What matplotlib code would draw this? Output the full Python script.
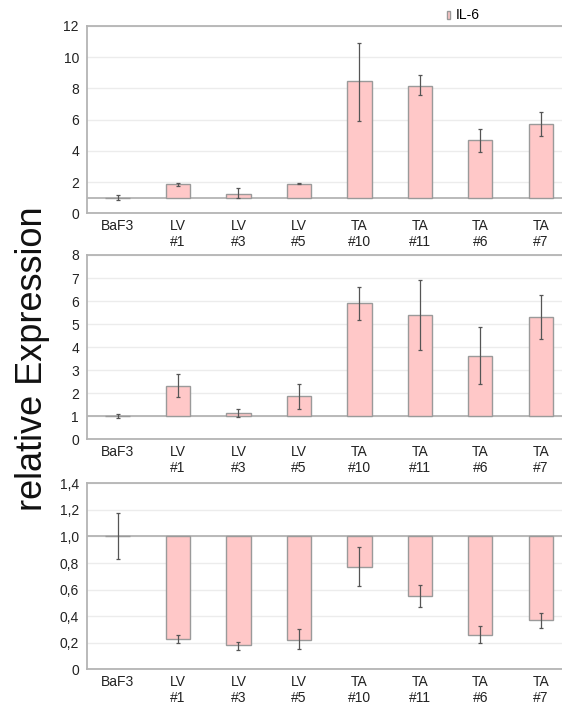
import numpy as np
import matplotlib.pyplot as plt

plt.rcParams['font.family'] = ['Liberation Sans', 'DejaVu Sans']

samples = ["BaF3", "LV\n#1", "LV\n#3", "LV\n#5", "TA\n#10", "TA\n#11", "TA\n#6", "TA\n#7"]

# panel 1 (IL-6)
p1_mean = [1.0, 1.86, 1.26, 1.88, 8.46, 8.18, 4.68, 5.72]
p1_lo = [0.85, 1.75, 1.00, 1.86, 5.90, 7.60, 3.93, 4.96]
p1_hi = [1.20, 1.95, 1.62, 1.92, 10.94, 8.87, 5.40, 6.47]

# panel 2
p2_mean = [1.0, 2.33, 1.14, 1.87, 5.92, 5.38, 3.62, 5.31]
p2_lo = [0.92, 1.82, 0.96, 1.32, 5.17, 3.86, 2.39, 4.37]
p2_hi = [1.08, 2.84, 1.33, 2.42, 6.63, 6.93, 4.86, 6.25]

# panel 3
p3_mean = [1.0, 0.228, 0.183, 0.221, 0.773, 0.549, 0.258, 0.369]
p3_lo = [0.83, 0.20, 0.148, 0.15, 0.63, 0.472, 0.198, 0.309]
p3_hi = [1.174, 0.26, 0.208, 0.30, 0.918, 0.637, 0.324, 0.426]

ticks1 = [0, 2, 4, 6, 8, 10, 12]
ticks2 = [0, 1, 2, 3, 4, 5, 6, 7, 8]
ticks3 = [0, 0.2, 0.4, 0.6, 0.8, 1.0, 1.2, 1.4]
ticks3_labels = ["0", "0,2", "0,4", "0,6", "0,8", "1,0", "1,2", "1,4"]

BAR = "#ffc8c8"
EDGE = "#9a9a9a"
AX = "#b4b4b4"


def panel(fig, rect, mean, lo, hi, ticks, tlabels):
    ax = fig.add_axes(rect)
    x = np.arange(len(samples))
    mean = np.array(mean)
    yerr = [mean - np.array(lo), np.array(hi) - mean]
    bars = ax.bar(x, mean - 1, bottom=1, width=0.4, color=BAR, edgecolor=EDGE,
                  linewidth=1.0, zorder=3)
    ax.errorbar(x, mean, yerr=yerr, fmt='none', ecolor="#555555", elinewidth=0.9,
                capsize=1.5, capthick=0.9, zorder=4)
    ax.axhline(1, color=AX, lw=1.3, zorder=2)
    ax.set_xlim(-0.5, 7.35)
    ax.set_ylim(ticks[0], ticks[-1])
    ax.set_yticks(ticks)
    ax.set_yticklabels(tlabels if tlabels else [str(t) for t in ticks])
    ax.set_xticks(x)
    ax.set_xticklabels(samples)
    ax.tick_params(length=0, labelsize=10, colors="#222222")
    ax.tick_params(axis='y', pad=6)
    ax.tick_params(axis='x', pad=4)
    ax.grid(axis='y', color="#ececec", lw=1.0, zorder=0)
    ax.set_axisbelow(True)
    for s in ['left', 'top', 'bottom']:
        ax.spines[s].set_color(AX)
        ax.spines[s].set_linewidth(1.3)
    ax.spines['right'].set_visible(False)
    return ax, bars


fig = plt.figure(figsize=(5.62, 7.04), dpi=100)
left, width = 0.1553, 0.8447
ax1, bars1 = panel(fig, [left, 0.697, width, 0.9631 - 0.697], p1_mean, p1_lo, p1_hi, ticks1, None)
ax2, _ = panel(fig, [left, 0.376, width, 0.6378 - 0.376], p2_mean, p2_lo, p2_hi, ticks2, None)
ax3, _ = panel(fig, [left, 0.0493, width, 0.3135 - 0.0493], p3_mean, p3_lo, p3_hi, ticks3, ticks3_labels)

ax1.legend([bars1], ["IL-6"], loc='center left', bbox_to_anchor=(0.783, 0.978),
           bbox_transform=fig.transFigure, frameon=False, fontsize=10,
           handlelength=0.25, handleheight=0.5, handletextpad=0.35, borderpad=0)

fig.text(0.058, 0.49, "relative Expression", rotation=90, ha='center', va='center',
         fontsize=26, color="#111111")

fig.savefig("out.png", dpi=100)
